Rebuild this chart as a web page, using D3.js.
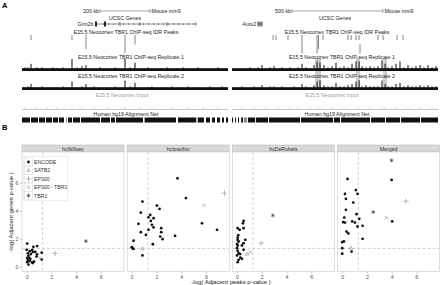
<!DOCTYPE html>
<html>
<head>
<meta charset="utf-8">
<script src="https://cdn.jsdelivr.net/npm/d3@7"></script>
<style>
  body { margin: 0; background: #fff; }
  svg { display: block; font-family: "Liberation Sans", Arial, sans-serif; }
</style>
</head>
<body>
<svg width="440" height="285"></svg>
<script>
// ---- panel A : genome browser tracks (positions in kb inside each window) ----
var leftPos = [2,12,24,36,52,60,80,100,112,124,140,164,176,200,220,232,240,256,272,288,312,328,344,372,392,412,432,452,472,488,504,520,540,560,580,600,624,644,664,684,704,724,752,768,784,800,816]
var rep1L = [2,3,3,6,2,3,3,2,2,3, 2,3,2,10,3,2,4,5,2,2, 3,2,2,3,2,10,3,7,2,2, 3,2,2,2,3,2,2,3,2,2, 3,2,2,2,3,2,2]
var rep2L = [2,2,3,5,2,2,3,2,2,2, 2,3,2,7,2,2,3,5,2,3, 2,2,2,3,2,8,3,6,2,2, 2,3,2,2,2,3,2,2,3,2, 2,2,3,2,2,3,2]
var inputL = [1,2,1,1,2,1,1,2,1,1, 2,1,1,2,1,1,2,1,1,2, 1,1,2,1,1,2,1,1,2,1, 1,2,1,1,1,2,1,1,2,1, 1,2,1,1,2,1,1]

var rightPos = [11,33,55,77,99,121,143,165,187,209,231,253,275,297,319,341,363,385,407,429,451,468,484,506,528,550,572,594,616,638,660,682,699,715,737,759,781,803,825,842,858,880,902,924,946,968,990,1012,1034,1056,1078,1100,1122]
var rep1R = [2,2,2,2,3,2,3,5,2,3, 4,2,3,2,3,2,3,6,3,2, 5,8,7,5,3,4,7,3,4,3, 6,8,8,4,3,4,3,4,9,6, 3,4,6,8,3,5,3,4,5,3, 5,3,4]
var rep2R = [2,2,3,2,2,3,2,4,2,3, 3,2,3,2,2,3,2,5,3,2, 4,7,8,4,3,3,6,3,3,4, 5,7,8,3,4,3,3,3,8,5, 3,3,5,6,3,4,3,3,4,3, 4,3,3]
var inputR = [1,1,2,1,1,2,1,1,2,1, 1,2,1,1,2,1,2,1,1,2, 1,2,2,1,1,2,1,1,2,1, 1,2,2,1,1,2,1,1,2,2, 1,1,2,1,1,2,1,1,2,1, 1,2,1]

// IDR peaks: [kb, first row, last row]
var peaksL = [[36,0,0],[200,0,0],[256,0,2],[412,0,3],[452,0,1]]
var peaksR = [[226,0,0],[242,0,0],[308,0,0],[385,0,3],[468,0,3],[476,0,2],[501,0,0],[638,0,0],[655,0,0],[682,0,0],[699,0,0],[704,2,3],[803,0,0],[831,0,0],[908,0,0],[941,0,0]]
var highlightR = [[457,490],[682,704],[831,853]]

// alignment net blocks: [start kb, end kb, shade]
var netL = [[0,32,1],[36,64,1],[68,92,1],[96,120,1],[124,144,1],[148,168,1],[176,180,0.5],[184,200,1],[204,232,1],[236,312,1],[316,352,1],[356,372,1],[376,484,1],[488,490,0.5],[492,616,1],[624,696,1],[698,702,0.5],[704,728,1],[736,752,1],[760,772,1],[780,792,1],[800,808,1],[816,824,1]]
var netR = [[0,6,1],[17,22,1],[33,39,1],[50,61,1],[66,83,0.5],[88,127,1],[132,198,1],[204,374,1],[380,556,1],[561,594,1],[600,759,1],[765,842,1],[847,924,1],[930,1034,1],[1040,1133,1]]

var grin2b = {name: 'Grin2b', start: 292, end: 696, exons: [[292,300],[328,336]], marks: [392,472,580,696]}
var auts2 = {name: 'Auts2', exons: [[141,146],[151,156],[162,167]]}

// ---- panel B : scatter facets ----
var facets = ['hcWillsey', 'hcIossifov', 'hcDeRubeis', 'Merged']
var groups = ['ENCODE', 'SATB2', 'EP300', 'EP300 - TBR1', 'TBR1']
var xTicks = [0, 2, 4, 6]
var yTicks = [0, 2, 4, 6]

var willsey = [[0.05,1.65,'ENCODE'],[0,1.2,'ENCODE'],[0.25,1.1,'ENCODE'],[0.45,1.2,'ENCODE'],[0.55,1.42,'ENCODE'],[0.85,1.47,'ENCODE'],[0.1,0.95,'ENCODE'],[0.35,0.9,'ENCODE'],[0.15,0.78,'ENCODE'],[0.05,0.62,'ENCODE'],[0.3,0.55,'ENCODE'],[0.1,0.45,'ENCODE'],[0.05,0.32,'ENCODE'],[0.25,0.4,'ENCODE'],[0.45,0.3,'ENCODE'],[0.6,0.36,'ENCODE'],[0.5,0.25,'ENCODE'],[0.15,0.15,'ENCODE'],[0.85,0.88,'ENCODE'],[0.8,0.72,'ENCODE'],[1.22,1.0,'ENCODE'],[1.22,0.5,'ENCODE'],[0.5,1.05,'ENCODE'],[0.7,1.05,'ENCODE'],[0.2,0.62,'ENCODE'],
  [1.08,0.63,'EP300 - TBR1'],[2.3,0.95,'EP300'],[4.8,1.82,'TBR1']]
var iossifov = [[3.7,6.32,'ENCODE'],[4.38,4.9,'ENCODE'],[5.68,3.1,'ENCODE'],[6.9,2.63,'ENCODE'],[3.5,2.2,'ENCODE'],[2.03,4.37,'ENCODE'],[2.24,4.13,'ENCODE'],[0.86,4.65,'ENCODE'],[0.73,3.86,'ENCODE'],[1.49,3.7,'ENCODE'],[1.35,3.53,'ENCODE'],[1.76,3.46,'ENCODE'],[1.54,3.27,'ENCODE'],[0.54,3.06,'ENCODE'],[1.62,2.99,'ENCODE'],[1.76,2.8,'ENCODE'],[1.35,2.63,'ENCODE'],[0.73,2.46,'ENCODE'],[2.38,2.75,'ENCODE'],[2.38,2.46,'ENCODE'],[1.14,2.27,'ENCODE'],[2.3,2.15,'ENCODE'],[2.49,1.96,'ENCODE'],[0.14,1.85,'ENCODE'],[1.7,1.6,'ENCODE'],[0,1.39,'ENCODE'],[0.14,1.27,'ENCODE'],[0.05,1.3,'ENCODE'],[0.86,0.8,'ENCODE'],
  [0.86,1.27,'SATB2'],[7.5,5.25,'EP300'],[5.84,4.37,'EP300 - TBR1']]
var derubeis = [[0.53,3.27,'ENCODE'],[0.48,3.1,'ENCODE'],[0.05,2.75,'ENCODE'],[0.21,2.63,'ENCODE'],[0.53,2.75,'ENCODE'],[0.05,2.08,'ENCODE'],[0.05,1.92,'ENCODE'],[0.13,1.8,'ENCODE'],[0.67,1.92,'ENCODE'],[0.53,1.68,'ENCODE'],[0.4,1.51,'ENCODE'],[0.05,1.51,'ENCODE'],[0,1.32,'ENCODE'],[0.05,1.13,'ENCODE'],[0.53,1.2,'ENCODE'],[0.13,0.96,'ENCODE'],[0,0.8,'ENCODE'],[0.27,0.65,'ENCODE'],[0.13,0.49,'ENCODE'],[0.05,0.32,'ENCODE'],[0.4,0.56,'ENCODE'],[0,1.62,'ENCODE'],[0.25,0.9,'ENCODE'],[0.1,2.25,'ENCODE'],
  [2.9,3.66,'TBR1'],[1.95,1.68,'EP300'],[1.07,1.04,'EP300 - TBR1'],[0.8,0.9,'SATB2']]
var merged = [[0.43,6.27,'ENCODE'],[4.0,6.2,'ENCODE'],[1.1,5.48,'ENCODE'],[1.24,5.2,'ENCODE'],[0.22,5.2,'ENCODE'],[0.3,4.85,'ENCODE'],[0.89,4.58,'ENCODE'],[4.05,3.23,'ENCODE'],[0.3,4.06,'ENCODE'],[1.16,3.75,'ENCODE'],[1.38,3.42,'ENCODE'],[0.16,3.51,'ENCODE'],[0.08,3.18,'ENCODE'],[0.22,3.15,'ENCODE'],[0.81,3.23,'ENCODE'],[1.03,3.15,'ENCODE'],[1.24,2.87,'ENCODE'],[1.65,2.92,'ENCODE'],[0.35,2.51,'ENCODE'],[0.49,2.37,'ENCODE'],[1.65,1.99,'ENCODE'],[0,1.75,'ENCODE'],[0.14,1.8,'ENCODE'],[0,1.32,'ENCODE'],[0.76,1.08,'ENCODE'],[0,0.92,'ENCODE'],
  [4.0,7.6,'TBR1'],[2.51,3.9,'TBR1'],[5.16,4.68,'EP300'],[3.59,3.49,'EP300 - TBR1'],[0.7,1.32,'SATB2']]
var facetData = [willsey, iossifov, derubeis, merged]
var cutoff = 1.3

var svg = d3.select('svg')

svg.append('text').attr('x', 2).attr('y', 8).attr('font-size', 7.5).attr('font-weight', 'bold').text('A')
svg.append('text').attr('x', 2).attr('y', 130).attr('font-size', 7.5).attr('font-weight', 'bold').text('B')

var xl = d3.scaleLinear().domain([0, 824]).range([22, 228])
var xr = d3.scaleLinear().domain([0, 1133]).range([232, 438])
var sh = d3.scaleLinear().domain([0, 10]).range([0, 12])

function label(x, y, txt, color) {
  svg.append('text').attr('x', x).attr('y', y).attr('font-size', 5.3)
    .attr('text-anchor', 'middle').attr('fill', color || '#222').text(txt)
}

function signal(g, x, pos, vals, base, color, band) {
  g.append('rect').attr('x', x.range()[0]).attr('y', base - band).attr('width', x.range()[1] - x.range()[0])
    .attr('height', band).attr('fill', color)
  g.selectAll(null).data(pos).enter().append('rect')
    .attr('x', d => x(d) - 0.5).attr('width', 1)
    .attr('y', (d, i) => base - sh(vals[i]))
    .attr('height', (d, i) => sh(vals[i]))
    .attr('fill', color)
}

function drawWindow(x, o) {
  var g = svg.append('g')
  var mid = (x.range()[0] + x.range()[1]) / 2
  // scale bar
  var s0 = x(o.barStart), s1 = x(o.barStart + o.barKb)
  g.append('line').attr('x1', s0).attr('x2', s1).attr('y1', 11).attr('y2', 11).attr('stroke', '#444').attr('stroke-width', 0.5)
  g.append('line').attr('x1', s0).attr('x2', s0).attr('y1', 9).attr('y2', 13).attr('stroke', '#444').attr('stroke-width', 0.5)
  g.append('line').attr('x1', s1).attr('x2', s1).attr('y1', 9).attr('y2', 13).attr('stroke', '#444').attr('stroke-width', 0.5)
  g.append('text').attr('x', s0 - 1).attr('y', 13).attr('font-size', 5.3).attr('text-anchor', 'end').attr('fill', '#222').text(o.barKb + ' kb')
  g.append('text').attr('x', s1 + 1.5).attr('y', 13).attr('font-size', 5.3).attr('fill', '#222').text('Mouse mm9')
  label(mid, 19.5, 'UCSC Genes')
  label(mid + o.shift, 33.5, 'E15.5 Neocortex TBR1 ChIP-seq IDR Peaks')
  label(mid + o.shift + 5, 58.5, 'E15.5 Neocortex TBR1 ChIP-seq Replicate 1')
  label(mid + o.shift + 5, 77.5, 'E15.5 Neocortex TBR1 ChIP-seq Replicate 2')
  label(mid - 3, 97, 'E15.5 Neocortex Input', '#999')
  label(mid + o.shift, 116, 'Human hg19 Alignment Net')

  // peaks
  g.selectAll(null).data(o.peaks).enter().append('line')
    .attr('x1', d => x(d[0])).attr('x2', d => x(d[0]))
    .attr('y1', d => 35 + d[1] * 4.5).attr('y2', d => 40 + d[2] * 4.5)
    .attr('stroke', '#333').attr('stroke-width', 0.6)

  // highlighted regions
  g.selectAll(null).data(o.highlight || []).enter().append('rect')
    .attr('x', d => x(d[0])).attr('width', d => x(d[1]) - x(d[0]))
    .attr('y', 58).attr('height', 32).attr('fill', '#ccc')

  signal(g, x, o.pos, o.rep1, 71, '#111', 2.8)
  signal(g, x, o.pos, o.rep2, 90, '#111', 2.8)
  signal(g, x, o.pos, o.input, 110, '#c8c8c8', 1)

  g.selectAll(null).data(o.net).enter().append('rect')
    .attr('x', d => x(d[0])).attr('width', d => Math.max(0.8, x(d[1]) - x(d[0])))
    .attr('y', 117.5).attr('height', 5)
    .attr('fill', d => d[2] === 1 ? '#111' : '#888')
  return g
}

var gl = drawWindow(xl, {barStart: 312, barKb: 200, shift: 1, peaks: peaksL, pos: leftPos, rep1: rep1L, rep2: rep2L, input: inputL, net: netL})
var gr = drawWindow(xr, {barStart: 330, barKb: 500, shift: 2, peaks: peaksR, highlight: highlightR, pos: rightPos, rep1: rep1R, rep2: rep2R, input: inputR, net: netR})

// genes
gl.append('line').attr('x1', xl(grin2b.start)).attr('x2', xl(grin2b.end)).attr('y1', 24).attr('y2', 24).attr('stroke', '#222').attr('stroke-width', 0.5)
gl.selectAll(null).data(d3.range(xl(grin2b.start) + 8, xl(grin2b.end), 5)).enter().append('path')
  .attr('d', d => `M${d + 1.2},22.8L${d},24L${d + 1.2},25.2`).attr('fill', 'none').attr('stroke', '#222').attr('stroke-width', 0.4)
gl.selectAll(null).data(grin2b.exons).enter().append('rect')
  .attr('x', d => xl(d[0])).attr('width', d => xl(d[1]) - xl(d[0])).attr('y', 21.5).attr('height', 5).attr('fill', '#222')
gl.selectAll(null).data(grin2b.marks).enter().append('line')
  .attr('x1', d => xl(d)).attr('x2', d => xl(d)).attr('y1', 22.2).attr('y2', 25.8).attr('stroke', '#222').attr('stroke-width', 0.6)
gl.append('text').attr('x', xl(grin2b.start) - 1.5).attr('y', 26).attr('font-size', 5.3).attr('text-anchor', 'end').attr('fill', '#222').text(grin2b.name)

gr.selectAll(null).data(auts2.exons).enter().append('rect')
  .attr('x', d => xr(d[0])).attr('width', d => xr(d[1]) - xr(d[0])).attr('y', 21.5).attr('height', 5).attr('fill', '#222')
gr.append('line').attr('x1', xr(141)).attr('x2', xr(167)).attr('y1', 24).attr('y2', 24).attr('stroke', '#222').attr('stroke-width', 0.5)
gr.append('text').attr('x', xr(auts2.exons[0][0]) - 1.5).attr('y', 26).attr('font-size', 5.3).attr('text-anchor', 'end').attr('fill', '#222').text(auts2.name)

// ---- panel B ----
var px = d3.scaleLinear().domain([-0.375, 7.885]).range([0, 102])
var py = d3.scaleLinear().domain([-0.35, 8.2]).range([271.5, 152])
var shapes = {
  'ENCODE': d3.symbolCircle, 'SATB2': d3.symbolTriangle2, 'EP300': d3.symbolPlus,
  'EP300 - TBR1': d3.symbolX, 'TBR1': d3.symbolAsterisk
}
var colors = {'ENCODE': '#111', 'SATB2': '#8a8a8a', 'EP300': '#8a8a8a', 'EP300 - TBR1': '#8a8a8a', 'TBR1': '#222'}
var sizes = {'ENCODE': 6, 'SATB2': 9, 'EP300': 11, 'EP300 - TBR1': 9, 'TBR1': 11}

function mark(sel) {
  sel.attr('d', d => d3.symbol().type(shapes[d]).size(sizes[d])())
    .attr('fill', d => d === 'ENCODE' ? colors[d] : 'none')
    .attr('stroke', d => d === 'ENCODE' ? 'none' : colors[d])
    .attr('stroke-width', 0.6)
}

facets.forEach(function (name, i) {
  var g = svg.append('g').attr('transform', `translate(${22 + i * 105.2},0)`)
  g.append('rect').attr('x', 0).attr('y', 145).attr('width', 102).attr('height', 7)
    .attr('fill', '#d9d9d9').attr('stroke', '#b3b3b3').attr('stroke-width', 0.5)
  g.append('text').attr('x', 51).attr('y', 150.6).attr('font-size', 5.2).attr('text-anchor', 'middle').attr('fill', '#333').text(name)
  g.append('rect').attr('x', 0).attr('y', 152).attr('width', 102).attr('height', 119.5)
    .attr('fill', '#fff').attr('stroke', '#c8c8c8').attr('stroke-width', 0.6)
  g.append('line').attr('x1', px(cutoff)).attr('x2', px(cutoff)).attr('y1', 152).attr('y2', 271.5)
    .attr('stroke', '#c8c8c8').attr('stroke-width', 0.8).attr('stroke-dasharray', '3,2')
  g.append('line').attr('x1', 0).attr('x2', 102).attr('y1', py(cutoff)).attr('y2', py(cutoff))
    .attr('stroke', '#c8c8c8').attr('stroke-width', 0.8).attr('stroke-dasharray', '3,2')

  g.selectAll('path.pt').data(facetData[i]).enter().append('path').attr('class', 'pt')
    .attr('transform', d => `translate(${px(d[0])},${py(d[1])})`)
    .each(function (d) { mark(d3.select(this).datum(d[2])) })

  var ax = g.append('g').attr('transform', 'translate(0,271.5)')
    .call(d3.axisBottom(px).tickValues(xTicks).tickSize(2).tickPadding(1.5))
  ax.select('.domain').remove()
  ax.selectAll('line').attr('stroke', '#888').attr('stroke-width', 0.5)
  ax.selectAll('text').attr('font-size', 5.3).attr('fill', '#555').attr('font-family', null)

  if (i === 0) {
    var ay = g.append('g').call(d3.axisLeft(py).tickValues(yTicks).tickSize(2).tickPadding(1.5))
    ay.select('.domain').remove()
    ay.selectAll('line').attr('stroke', '#888').attr('stroke-width', 0.5)
    ay.selectAll('text').attr('font-size', 5.3).attr('fill', '#555').attr('font-family', null)

    var lg = g.append('g')
    lg.append('rect').attr('x', 1.5).attr('y', 156.5).attr('width', 44).attr('height', 44)
      .attr('fill', '#fff').attr('stroke', '#ddd').attr('stroke-width', 0.5)
    groups.forEach(function (grp, j) {
      var yy = 162 + j * 8.4
      lg.append('rect').attr('x', 2.5).attr('y', yy - 4).attr('width', 8).attr('height', 8)
        .attr('fill', '#fff').attr('stroke', '#ccc').attr('stroke-width', 0.4)
      mark(lg.append('path').datum(grp).attr('transform', `translate(6.5,${yy})`))
      lg.append('text').attr('x', 12).attr('y', yy + 1.9).attr('font-size', 5.2).attr('fill', '#333').text(grp)
    })
  }
})

svg.append('text').attr('x', 231).attr('y', 284).attr('font-size', 6).attr('text-anchor', 'middle')
  .attr('fill', '#222').text('-log( Adjacent peaks p-value )')
svg.append('text').attr('transform', 'translate(13,212) rotate(-90)').attr('font-size', 6).attr('text-anchor', 'middle')
  .attr('fill', '#222').text('-log( Adjacent genes p-value )')
</script>
</body>
</html>
